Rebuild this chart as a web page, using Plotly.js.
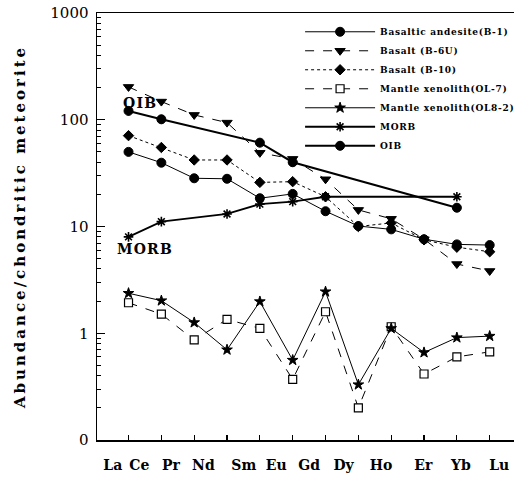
<!DOCTYPE html>
<html><head><meta charset="utf-8">
<script src="https://cdn.plot.ly/plotly-3.0.1.min.js"></script>
<style>
html,body{margin:0;padding:0;background:#fff;}
#chart{width:524px;height:479px;}
.ytitle{letter-spacing:3px;}
.legendtext{letter-spacing:0.7px;}
.annotation-text{letter-spacing:1.2px;}
</style></head><body><div id="chart"></div>
<script>
// Rare earth elements (x categories)
const elements = ["La","Ce","Pr","Nd","Sm","Eu","Gd","Dy","Ho","Er","Yb","Lu"];
// Chondrite-normalised abundances
const basalticAndesiteB1 = [50, 39.6, 28.3, 28, 18.4, 20.2, 13.9, 10.1, 9.4, 7.6, 6.8, 6.7];
const basaltB6U          = [203, 148, 111, 94, 49, 43, 27.7, 14.3, 11.8, 7.6, 4.45, 3.83];
const basaltB10          = [71, 55, 42, 42, 25.9, 26.3, 19, 10, 10.8, 7.5, 6.4, 5.8];
const xenolithOL7        = [1.93, 1.51, 0.865, 1.35, 1.11, 0.37, 1.59, 0.20, 1.15, 0.415, 0.60, 0.67];
const xenolithOL82       = [2.37, 2.02, 1.26, 0.70, 1.98, 0.56, 2.45, 0.33, 1.11, 0.66, 0.91, 0.94];
const morb               = [8.0, 11.1, null, 13.1, 16.2, 17.1, 19, null, null, null, 19, null];
const oib                = [121, 101, null, null, 61, 40, null, null, null, null, 15, null];
// Legend names
const seriesNames = ["Basaltic andesite(B-1)","Basalt (B-6U)","Basalt (B-10)","Mantle xenolith(OL-7)","Mantle xenolith(OL8-2)","MORB","OIB"];
// Y tick labels
const yTickVals = [0.1, 1, 10, 100, 1000];
const yTickText = ["0", "1", "10", "100", "1000"];
// positions (in category units) of the hand-set element labels under the axis
const elementLabelPos = [-0.48, 0.33, 1.29, 2.28, 3.51, 4.5, 5.5, 6.55, 7.69, 8.98, 10.12, 11.29];

const minorVals = [];
[0.1, 1, 10, 100].forEach(d => { for (let k = 2; k <= 9; k++) minorVals.push(d * k); });

function tr(name, y, symbol, size, dash, lw) {
  return {
    type: 'scatter', mode: 'lines+markers', name: name,
    x: elements, y: y, connectgaps: true,
    line: {color: '#000', width: lw, dash: dash},
    marker: {symbol: symbol, size: size, color: '#000', line: {color: '#000', width: 1}}
  };
}

const data = [
  tr(seriesNames[0], basalticAndesiteB1, 'circle', 9, 'solid', 1),
  tr(seriesNames[1], basaltB6U, 'triangle-down', 9, 'dash', 1),
  tr(seriesNames[2], basaltB10, 'diamond', 8, 'dot', 1),
  tr(seriesNames[3], xenolithOL7, 'square', 8, 'dash', 1),
  tr(seriesNames[4], xenolithOL82, 'star', 8, 'solid', 1),
  tr(seriesNames[5], morb, 'asterisk-open', 8, 'solid', 1.8),
  tr(seriesNames[6], oib, 'circle-cross', 9, 'solid', 2)
];
data[3].marker.color = '#fff';
data[3].marker.line = {color: '#000', width: 1.2};
data[5].marker.line = {color: '#000', width: 1.6};

const layout = {
  width: 524, height: 479,
  margin: {l: 97, r: 4, t: 13, b: 39},
  paper_bgcolor: '#fff', plot_bgcolor: '#fff',
  font: {family: 'DejaVu Serif', color: '#000'},
  showlegend: true,
  xaxis: {
    type: 'category', range: [-0.96, 11.74],
    showticklabels: false, ticks: 'inside', ticklen: 5, tickwidth: 1.2, tickcolor: '#000',
    showline: true, linewidth: 1.5, linecolor: '#000', mirror: true,
    showgrid: false, zeroline: false
  },
  xaxis2: {
    type: 'linear', overlaying: 'x', anchor: 'y', side: 'bottom',
    range: [-0.96, 11.74], tickmode: 'array', tickvals: elementLabelPos, ticktext: elements,
    ticks: '', showline: false, showgrid: false, zeroline: false,
    tickfont: {family: 'DejaVu Serif', size: 14, weight: 'bold', color: '#000'},
    ticklabelstandoff: 15
  },
  yaxis: {
    type: 'log', range: [-1, 3],
    tickmode: 'array', tickvals: yTickVals, ticktext: yTickText,
    ticks: 'inside', ticklen: 8, tickwidth: 1.2, tickcolor: '#000',
    minor: {tickmode: 'array', tickvals: minorVals, ticks: 'inside', ticklen: 4, tickwidth: 1, tickcolor: '#000', showgrid: false},
    showline: true, linewidth: 1.5, linecolor: '#000',
    showgrid: false, zeroline: false,
    tickfont: {family: 'DejaVu Serif', size: 15, color: '#000'},
    ticklabelstandoff: 4,
    title: {text: 'Abundance/chondritic meteorite', font: {family: 'DejaVu Serif', size: 15, weight: 'bold', color: '#000'}, standoff: 21}
  },
  legend: {
    x: 0.487, y: 0.99, xanchor: 'left', yanchor: 'top',
    bgcolor: 'rgba(0,0,0,0)', borderwidth: 0,
    font: {family: 'DejaVu Serif', size: 9, weight: 'bold', color: '#000'},
    itemwidth: 70, tracegroupgap: 0
  },
  annotations: [
    {text: 'OIB', x: 0.36, y: Math.log10(143), xref: 'x', yref: 'y', showarrow: false,
     font: {family: 'DejaVu Serif', size: 14, weight: 'bold', color: '#000'}},
    {text: 'MORB', x: 0.5, y: Math.log10(6.15), xref: 'x', yref: 'y', showarrow: false,
     font: {family: 'DejaVu Serif', size: 14, weight: 'bold', color: '#000'}}
  ]
};

// invisible helper trace so the label axis (xaxis2) is drawn
data.push({type: 'scatter', x: [0], y: [1], xaxis: 'x2', yaxis: 'y', mode: 'markers',
  marker: {opacity: 0}, showlegend: false, hoverinfo: 'skip'});

Plotly.newPlot('chart', data, layout, {displayModeBar: false, staticPlot: true});
</script></body></html>
